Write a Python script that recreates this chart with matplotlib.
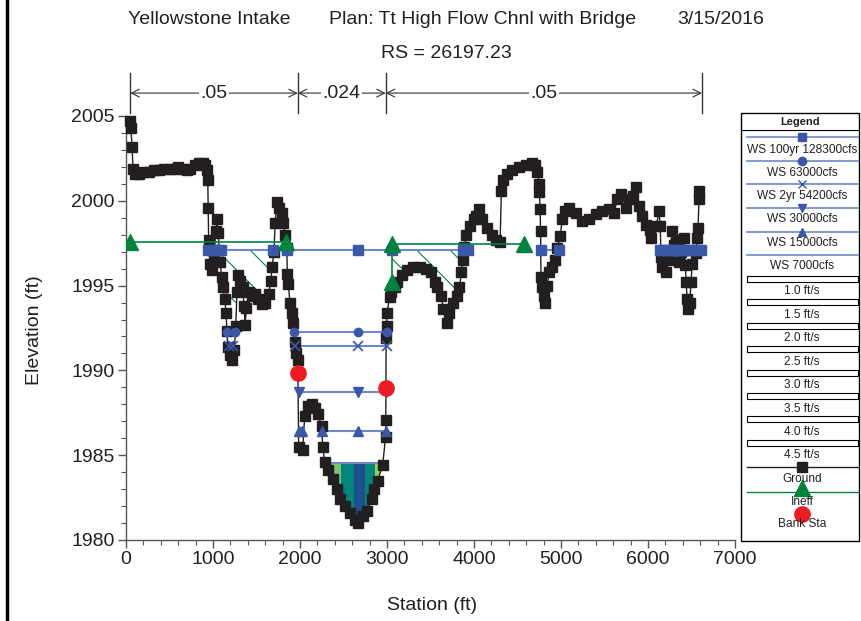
import matplotlib
matplotlib.use("Agg")
import matplotlib.pyplot as plt
from matplotlib import font_manager
from matplotlib.lines import Line2D
from matplotlib.patches import Polygon, Rectangle
from matplotlib.ticker import MultipleLocator

# Ground profile (station ft, elevation ft)
ground_sta = [50, 55, 70, 80, 100, 150, 200, 260, 320, 380, 440, 500, 560, 600, 650, 700,
              740, 790, 840, 880, 910, 930, 940, 945, 950, 965, 985, 1010, 1030, 1045, 1060,
              1080, 1100, 1115, 1135, 1150, 1160, 1170, 1195, 1220, 1245, 1262, 1275, 1290,
              1315, 1340, 1358, 1368, 1385, 1410, 1445, 1480, 1520, 1560, 1600, 1640, 1665,
              1680, 1700, 1715, 1735, 1760, 1790, 1810, 1830, 1848, 1855, 1865, 1885, 1905,
              1917, 1940, 1958, 1974, 1985, 2030, 2054, 2090, 2135, 2170, 2203, 2250, 2260,
              2284, 2318, 2376, 2421, 2456, 2513, 2571, 2628, 2663, 2720, 2766, 2823, 2845,
              2892, 2950, 2984, 2986, 2990, 2995, 3000, 3030, 3045, 3087, 3110, 3167, 3225,
              3294, 3374, 3454, 3511, 3546, 3580, 3626, 3645, 3684, 3718, 3753, 3799, 3833,
              3856, 3868, 3890, 3913, 3950, 4000, 4028, 4062, 4097, 4154, 4212, 4258, 4300,
              4315, 4330, 4384, 4441, 4522, 4602, 4671, 4700, 4728, 4745, 4751, 4760, 4765,
              4770, 4786, 4800, 4815, 4840, 4866, 4900, 4930, 4958, 4990, 5015, 5050, 5095,
              5175, 5245, 5325, 5405, 5474, 5554, 5612, 5646, 5692, 5749, 5784, 5830, 5864,
              5898, 5933, 5979, 6020, 6036, 6094, 6128, 6140, 6151, 6165, 6208, 6243, 6277,
              6300, 6335, 6358, 6380, 6415, 6430, 6438, 6450, 6465, 6480, 6495, 6507, 6553,
              6564, 6575, 6587, 6590]
ground_elev = [2004.7, 2004.3, 2003.2, 2001.9, 2001.6, 2001.6, 2001.7, 2001.7, 2001.8, 2001.8,
               2001.9, 2001.9, 2001.9, 2002.0, 2001.9, 2001.8, 2001.9, 2002.1, 2002.2, 2002.2,
               2002.1, 2001.8, 2001.2, 1999.6, 1997.7, 1996.3, 1995.9, 1996.5, 1998.2, 1998.9,
               1998.1, 1996.4, 1995.5, 1994.9, 1994.2, 1993.4, 1992.3, 1991.4, 1990.9, 1990.6,
               1991.2, 1992.6, 1994.6, 1995.6, 1995.3, 1994.9, 1993.8, 1992.7, 1993.7, 1994.6,
               1994.4, 1994.5, 1994.2, 1993.9, 1994.0, 1994.5, 1995.3, 1996.1, 1997.0, 1998.7,
               1999.9, 1999.6, 1999.3, 1998.7, 1998.0, 1997.2, 1995.7, 1995.1, 1994.0, 1993.4,
               1992.8, 1991.7, 1991.0, 1990.6, 1985.5, 1985.3, 1987.3, 1987.9, 1988.0, 1987.8,
               1987.4, 1986.7, 1985.5, 1984.6, 1984.1, 1983.6, 1983.0, 1982.4, 1982.0, 1981.6,
               1981.2, 1981.0, 1981.4, 1981.7, 1982.4, 1983.0, 1983.5, 1984.4, 1986.1, 1987.1,
               1991.9, 1992.6, 1993.4, 1994.3, 1994.6, 1994.9, 1995.2, 1995.6, 1995.9, 1996.1,
               1996.1, 1996.0, 1995.8, 1995.2, 1994.9, 1994.4, 1993.6, 1992.8, 1993.4, 1994.0,
               1994.4, 1994.9, 1995.8, 1996.5, 1997.3, 1998.0, 1998.5, 1998.9, 1999.1, 1999.5,
               1998.9, 1998.4, 1998.0, 1997.7, 1997.6, 2000.6, 2001.2, 2001.6, 2001.8, 2002.0,
               2002.1, 2002.2, 2002.1, 2001.7, 2001.0, 2000.5, 1999.5, 1998.2, 1995.5, 1994.9,
               1994.4, 1994.0, 1995.0, 1995.8, 1996.1, 1996.5, 1997.2, 1997.9, 1998.9, 1999.4,
               1999.6, 1999.3, 1998.8, 1998.9, 1999.2, 1999.4, 1999.5, 1999.3, 2000.1, 2000.4,
               1999.6, 2000.1, 2000.3, 2000.8, 1999.7, 1999.1, 1998.6, 1998.3, 1997.8, 1998.5,
               1999.4, 1998.5, 1996.7, 1996.1, 1995.8, 1996.5, 1998.2, 1997.4, 1997.7, 1996.4,
               1997.0, 1997.8, 1996.2, 1995.2, 1994.2, 1993.6, 1994.0, 1995.2, 1996.3, 1996.9,
               1997.8, 1998.4, 2000.1, 2000.6]

# Water surfaces: elevation, wet segments, marker stations
ws100_elev = 1997.1
ws100_segments = [(945, 3930), (4774, 4980), (6135, 6610)]
ws100_marks = [945, 985, 1020, 1060, 1095, 1690, 1850, 2663, 3060, 3870, 3930, 4774, 4980,
               6135, 6175, 6215, 6255, 6295, 6335, 6375, 6415, 6455, 6495, 6535, 6575, 6610]
ws63_elev = 1992.25
ws63_segments = [(1162, 1258), (1928, 2995)]
ws63_marks = [1162, 1258, 1928, 2663, 2995]
ws2yr_elev = 1991.45
ws2yr_segments = [(1185, 1230), (1940, 2995)]
ws2yr_marks = [1185, 1230, 1940, 2663, 2995]
ws30_elev = 1988.7
ws30_segments = [(1985, 2990)]
ws30_marks = [1985, 2663, 2990]
ws15_elev = 1986.45
ws15_segments = [(1985, 2027), (2250, 2990)]
ws15_marks = [1985, 2027, 2250, 2663, 2990]
ws7_elev = 1984.55
ws7_segments = [(2284, 2960)]

# Velocity distribution stripes for WS 7000cfs
vel_edges = [2280, 2475, 2617, 2743, 2858, 2965]
vel_colors = ["#7cc46c", "#00877b", "#1f4f8c", "#00877b", "#9acd60"]

# Ineffective flow areas
ineff_left_sta = [50, 1835]
ineff_left_elev = [1997.6, 1997.6]
ineff_right_sta = [3060, 4580]
ineff_right_elev = [1997.45, 1997.45]
ineff_extra_sta = [3060]
ineff_extra_elev = [1995.2]
hatch_zones = [(945, 1835), (3060, 3890)]

# Bank stations
bank_sta = [1974, 2985]
bank_elev = [1989.85, 1988.95]

# Manning's n
n_breaks = [50, 1975, 2985, 6620]
n_values = [".05", ".024", ".05"]

legend_ws = ["WS 100yr 128300cfs", "WS 63000cfs", "WS 2yr 54200cfs", "WS 30000cfs",
             "WS 15000cfs", "WS 7000cfs"]
legend_vel = ["1.0 ft/s", "1.5 ft/s", "2.0 ft/s", "2.5 ft/s", "3.0 ft/s", "3.5 ft/s",
              "4.0 ft/s", "4.5 ft/s"]

names = {f.name for f in font_manager.fontManager.ttflist}
narrow = "Liberation Sans Narrow" if "Liberation Sans Narrow" in names else None
plt.rcParams["font.family"] = ["Liberation Sans", "DejaVu Sans"]
plt.rcParams["hatch.linewidth"] = 0.8
big_font = dict(family=narrow, size=16) if narrow else dict(size=14)
LEG_FS = 8.6

TXT = "#231f20"
GROUND = "#231f20"
WS_LINE = "#6f88c8"
WS_MARK = "#3a57a8"
GREEN = "#00843d"
RED = "#ed1c24"

W, H = 862, 621
fig = plt.figure(figsize=(W / 100, H / 100), dpi=100)
ax = fig.add_axes([126 / W, 1 - 540 / H, (735 - 126) / W, (540 - 116) / H])


def fx(px):
    return px / W


def fy(py):
    return 1 - py / H


ax.set_xlim(0, 7000)
ax.set_ylim(1980, 2005)
for side in ["top", "right"]:
    ax.spines[side].set_visible(False)
for side in ["left", "bottom"]:
    ax.spines[side].set_color("#555555")
    ax.spines[side].set_linewidth(1)
ax.xaxis.set_major_locator(MultipleLocator(1000))
ax.xaxis.set_minor_locator(MultipleLocator(200))
ax.yaxis.set_major_locator(MultipleLocator(5))
ax.yaxis.set_minor_locator(MultipleLocator(1))
ax.tick_params(which="major", length=6, width=1, color="#555555", labelcolor=TXT, pad=2)
ax.tick_params(which="minor", length=3.5, width=0.8, color="#555555")
for lab in ax.get_xticklabels() + ax.get_yticklabels():
    lab.set_fontsize(big_font["size"])
    if narrow:
        lab.set_family(narrow)

# region above ground, used to clip fills
above = list(zip(ground_sta, ground_elev)) + [(ground_sta[-1], 2010), (ground_sta[0], 2010)]
clip_poly = Polygon(above, closed=True, facecolor="none", edgecolor="none", transform=ax.transData)
ax.add_patch(clip_poly)

# velocity stripes
for i, c in enumerate(vel_colors):
    r = Rectangle((vel_edges[i], 1980), vel_edges[i + 1] - vel_edges[i], ws7_elev - 1980,
                  facecolor=c, edgecolor="none", zorder=1)
    ax.add_patch(r)
    r.set_clip_path(clip_poly)

# ineffective area hatching
for s0, s1 in hatch_zones:
    h = Rectangle((s0, 1980), s1 - s0, ws100_elev - 1980, facecolor="none",
                  edgecolor=GREEN, linewidth=0, hatch="\\", zorder=1.5)
    ax.add_patch(h)
    h.set_clip_path(clip_poly)

# water surfaces
for elev, segs in [(ws100_elev, ws100_segments), (ws63_elev, ws63_segments),
                   (ws2yr_elev, ws2yr_segments), (ws30_elev, ws30_segments),
                   (ws15_elev, ws15_segments), (ws7_elev, ws7_segments)]:
    for s0, s1 in segs:
        ax.plot([s0, s1], [elev, elev], color=WS_LINE, lw=1.5, zorder=3)
ax.plot(ws100_marks, [ws100_elev] * len(ws100_marks), ls="none", marker="s", ms=7,
        color=WS_MARK, zorder=6)
ax.plot(ws63_marks, [ws63_elev] * len(ws63_marks), ls="none", marker="o", ms=6,
        color=WS_MARK, zorder=6)
ax.plot(ws2yr_marks, [ws2yr_elev] * len(ws2yr_marks), ls="none", marker="x", ms=7,
        mew=1.2, color=WS_MARK, zorder=6)
ax.plot(ws30_marks, [ws30_elev] * len(ws30_marks), ls="none", marker="v", ms=7,
        color=WS_MARK, zorder=6)
ax.plot(ws15_marks, [ws15_elev] * len(ws15_marks), ls="none", marker="^", ms=7,
        color=WS_MARK, zorder=6)

# ground
ax.plot(ground_sta, ground_elev, color=GROUND, lw=1, marker="s", ms=7, zorder=5, clip_on=False)

# ineffective flow
ax.plot(ineff_left_sta, ineff_left_elev, color=GREEN, lw=1.2, marker="^", ms=11, zorder=7)
ax.plot(ineff_right_sta, ineff_right_elev, color=GREEN, lw=1.2, marker="^", ms=11, zorder=7)
ax.plot([ineff_right_sta[0], ineff_extra_sta[0]], [ineff_right_elev[0], ineff_extra_elev[0]],
        color=GREEN, lw=1.2, zorder=7)
ax.plot(ineff_extra_sta, ineff_extra_elev, ls="none", color=GREEN, marker="^", ms=11, zorder=7)

# bank stations
ax.plot(bank_sta, bank_elev, ls="none", marker="o", ms=11, color=RED, zorder=8)

# Manning's n brackets above the plot
tr = ax.get_xaxis_transform()
for s in n_breaks:
    ax.plot([s, s], [1.007, 1.101], transform=tr, color="#333333", lw=1, clip_on=False)
for i, lab in enumerate(n_values):
    a, b = n_breaks[i], n_breaks[i + 1]
    ax.annotate("", xy=(b, 1.054), xytext=(a, 1.054), xycoords=tr, textcoords=tr,
                arrowprops=dict(arrowstyle="<->", color="#333333", lw=0.8,
                                shrinkA=0, shrinkB=0, mutation_scale=14),
                annotation_clip=False)
    ax.text((a + b) / 2, 1.054, lab, transform=tr, ha="center", va="center", color=TXT,
            bbox=dict(facecolor="white", edgecolor="none", pad=1), clip_on=False, **big_font)

# titles and axis labels
fig.text(fx(209), fy(20), "Yellowstone Intake", ha="center", va="center", color=TXT, **big_font)
fig.text(fx(483), fy(20), "Plan: Tt High Flow Chnl with Bridge", ha="center", va="center",
         color=TXT, **big_font)
fig.text(fx(721), fy(20), "3/15/2016", ha="center", va="center", color=TXT, **big_font)
fig.text(fx(446), fy(53), "RS = 26197.23", ha="center", va="center", color=TXT, **big_font)
fig.text(fx(35), fy(330), "Elevation (ft)", ha="center", va="center", rotation=90,
         color=TXT, **big_font)
fig.text(fx(432), fy(605), "Station (ft)", ha="center", va="center", color=TXT, **big_font)

# left frame line
fig.add_artist(Line2D([fx(7), fx(7)], [0, 1], color="black", lw=2.5))

# legend box
fig.add_artist(Rectangle((fx(741), fy(541)), fx(859) - fx(741), fy(113) - fy(541),
                         transform=fig.transFigure, facecolor="white", edgecolor="black", lw=1))
fig.text(fx(800), fy(122), "Legend", ha="center", va="center", fontsize=8, weight="bold",
         color=TXT)
fig.add_artist(Line2D([fx(741), fx(859)], [fy(130), fy(130)], color="black", lw=0.8))

LX0, LX1, LXC = 747, 858, 802
ws_markers = ["s", "o", "x", "v", "^", None]
ws_line_y = [137, 161, 184, 208, 232, 255]
ws_text_y = [150, 173, 196, 219, 243, 266]
for lab, mk, ly, ty in zip(legend_ws, ws_markers, ws_line_y, ws_text_y):
    fig.add_artist(Line2D([fx(LX0), fx(LX1)], [fy(ly), fy(ly)], color=WS_LINE, lw=1.2))
    if mk:
        fig.add_artist(Line2D([fx(LXC)], [fy(ly)], ls="none", marker=mk, ms=6, mew=1,
                              color=WS_MARK))
    fig.text(fx(LXC), fy(ty), lab, ha="center", va="center", fontsize=LEG_FS, color=TXT)

for i, lab in enumerate(legend_vel):
    by = 279 + i * 23.4
    fig.add_artist(Rectangle((fx(LX0), fy(by + 3)), fx(LX1) - fx(LX0), fy(by - 3) - fy(by + 3),
                             transform=fig.transFigure, facecolor="white",
                             edgecolor="black", lw=0.8))
    fig.text(fx(LXC), fy(by + 12.5), lab, ha="center", va="center", fontsize=LEG_FS, color=TXT)

fig.add_artist(Line2D([fx(LX0), fx(LX1)], [fy(467), fy(467)], color=GROUND, lw=1))
fig.add_artist(Line2D([fx(LXC)], [fy(467)], ls="none", marker="s", ms=6.5, color=GROUND))
fig.text(fx(LXC), fy(479), "Ground", ha="center", va="center", fontsize=LEG_FS, color=TXT)
fig.add_artist(Line2D([fx(LX0), fx(LX1)], [fy(492), fy(492)], color=GREEN, lw=1))
fig.add_artist(Line2D([fx(LXC)], [fy(488)], ls="none", marker="^", ms=11, color=GREEN))
fig.text(fx(LXC), fy(502), "Ineff", ha="center", va="center", fontsize=LEG_FS, color=TXT)
fig.add_artist(Line2D([fx(LXC)], [fy(514)], ls="none", marker="o", ms=11, color=RED))
fig.text(fx(LXC), fy(524), "Bank Sta", ha="center", va="center", fontsize=LEG_FS, color=TXT)

fig.savefig("out.png", dpi=100)
